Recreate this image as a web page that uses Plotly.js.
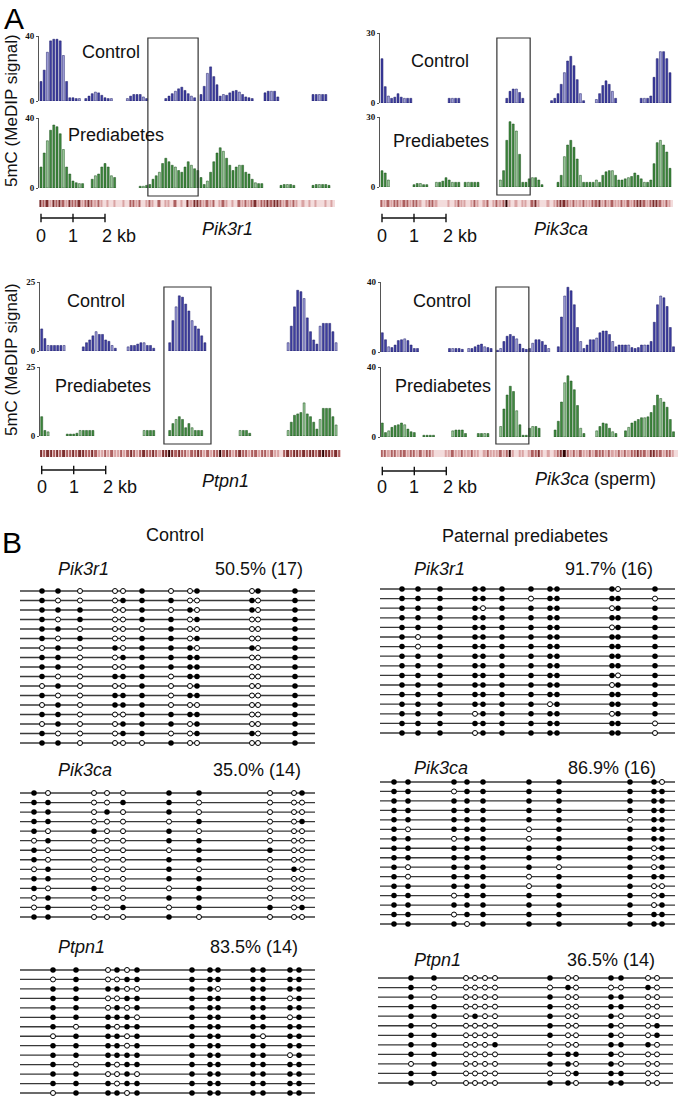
<!DOCTYPE html>
<html><head><meta charset="utf-8">
<script src="https://cdn.plot.ly/plotly-3.0.1.min.js"></script>
<style>html,body{margin:0;padding:0;background:#fff}#chart{width:680px;height:1099px}</style>
</head><body><div id="chart"></div>
<script>
const _ = null;
const KB_STEP = 0.1;            // bin width (kb)

// ---------- Panel A : MeDIP signal per 0.1-kb bin (null = no signal) ----------
const pik3r1_control = [12,19,30,37,38,38,37,28,12,2,2,1.5,1.5,_, 1.5,3,4.5,5.5,5,3.5,2,1.5,1.5,_,_,_,_, 1.5,3,4,4,4,2.5,1.5,_,_,_,_,_, 1.5,3,4.5,6,7.5,8.5,6.5,4.5,3,2,_, 4,9,17,21,15,10,3,4,3.5,5,6,6.5,5.5,4,2.5,2,1.5,_,_,_, 5,6,6,6,2.5,_,_,_,_,_,_,_,_,_,_, 4,4,4,4,4,_];
const pik3r1_prediabetes = [12,20,27,33,36,35,31,22,12,8,4,3,2.5,2.5,_,_, 5,7,8,12,14,12,7,6, _,_,_,_,_,_,_, 1,1,1.5, 2,5,7,9,14,17,15,13,12,10,9,12,15,13,11,10, 6,2,4,9,15,20,23,21,17,13,10,12,13,13,9,8,5,3,2.5,2.5, _,_,_,_,_, 1.5,2,2,2,1.5, _,_,_,_,_, 1.5,2,2,2,2,1.5];
const pik3ca_control = [19,7,3,2,2.5,4,2.5,2,2,2, _,_,_,_,_,_,_,_,_,_,_, 2,2,2,2, _,_,_,_,_,_,_,_,_,_,_,_,_,_, 2,5,6,6,4.5,2, _,_,_,_,_,_,_,_, 1,2,4,8,13,18,20,16,10,4,1, _,_,_, 1.5,4,7.5,9.5,8,5,2, _,_,_,_,_,_,_, 2,2,2,3,11,19,22,22,19,13];
const pik3ca_prediabetes = [7,6,3, _,_,_,_,_,_,_, 1,1.5,1.5,1,1, _,_, 2,2,2.5,4,3,2,2,2, _, 2,2,2,2,2, _,_,_,_,_,_, 3,7,20,28,27,24,14,2,2,3.5,4,4,3,1, _,_,_,_, 2,5,13,18,20,17,12,5,2,2,2,2,3,2,5,6.5,7,7,5,3,3,3.5,4,4.5,6,5,3.5,2,2,3,10,19,20,18,15,8];
const ptpn1_control = [8,4.5,2,2,2,2,2,2, _,_,_,_,_, 1.5,3,4,5.5,7,6,6,4,3.5,2,1, _,_,_, 1.5,2,2,2.5,3,3,2,2,1, _,_,_,_, 3,11,16,20,19.5,17,14.5,11,9,8,5.5,3, _,_,_,_,_,_,_,_,_,_,_,_,_,_,_,_,_,_,_,_,_,_,_,_,_, 3,9,16,22,21.5,19,12,7,4,2.5,9,10,10,10,7,3];
const ptpn1_prediabetes = [7,2,1.5, _,_,_,_,_, 0.7,0.7,0.7,1,2,2,2,2,2, _,_,_,_,_,_,_,_,_,_,_,_,_,_,_, 2,2,2,2, _,_,_,_, 2,4.5,6,7,6,3,4.5,3,2,2,2, _,_,_,_,_,_,_,_,_,_,_, 2,2,2,1, _,_,_,_,_,_,_,_,_,_,_, 2,5,7.5,8,8.5,12,8,7,5,2.5,6,10,10,10,7,4];
const pik3ca_sperm_control = [11,7,3,2.5,4,6.5,7,7.5,6.5,4,2,2, _,_,_,_,_,_,_,_,_, 2,2,2,2,1.5, _, 2,2,3,4,4.5,3,2.5,2, _, 1,2,6,9,10,9,7.5,4.5,2,1.5,2,5,7,7,6,4,2, _,_, 3,20,32,37,35,27,14,6,2,4,7,7,8,11,12,12,10,6,3,4,4,4,4,2.5,2,2.5,4,4,4,6,17,27,32,31,26,14,3];
const pik3ca_sperm_prediabetes = [8,2.5,3.5,5.5,6.5,7,8,7,4.5,3,2.5, _,_, 1,1,1,1, _,_,_,_,_, 3.5,4,4,4,2, _,_,_, 2,2,2,2, _,_,_, 6,16,24,29,26,15,7,1,1,5,6,6,5, _,_,_,_, 4,9,20,31,35,32,27,18,5,2, _,_,_, 3.5,6,8,7.5,5,3,2, _,_, 3.5,5.5,8,9,10,11,11,11.5,14,18,24,22,20,17,10,3];

// CpG density strip (0 = none ... 4 = densest), 0.1-kb bins
const pik3r1_cpg = [3,2,3,1,3,2,3,2,1,3,2,2,3,1,2,3,2,1,2, 1,0,1,0,1,0,0,1,0,2, 2,1,2,0,1,2, 1,0,2,0,1,1,0,2,0,1,0,3, 1,3,3,2, 1,2,1,2,0,1,2, 1,0,1,0,2,1, 2,1,2,3,1,2,2,3,2,3,3,2,1,2,1,2,1, 0,1,0,1,0,1,0,0,1,0,1];
const pik3ca_cpg = [2,1,2,1,2,2,1,2,2,1,2,2,1,0,1,2,2,1,0, 0,0,1,0,1,2,1,1,0,1,2,1,0,1,2,0,1,2,1, 2,4,1,0,1,0,1,1,0,2,3,1,0,0,1,0,1, 2,3,3,2,1,2,1,1,2,1,1,2,2,3,1,2, 1,2,1,1,2,1,2,1,2,3,3,2,1,2,3,3,2,1,2,1];
const ptpn1_cpg = [3,2,3,3,2,3,2,3,2,2,3,2,3,3,2,2,3,2,1, 1,2,1,2,1,1,2,1,2,3,2,1,2,3,2,2,3,2,1, 3,3,4,3,2,3,2,2,1,2,2,3,2,1,2,1,2,2,4, 2,3,2,1,2,3,2,2,1,2,2,1,2,2,1,2,1,1,0, 2,3,2,3,3,2,3,2,3,3,2,3,4,3,3,2,3,2];
const pik3ca_sperm_cpg = [2,2,1,2,2,1,2,2,1,2,2,1,2,1,2,2,1,0,0, 0,1,1,2,1,1,2,1,1,2,1,1,0,1,2,1,1,1,2, 1,2,4,1,0,1,1,0,1,2,2,3,1,0,1,0,1, 2,3,4,2,1,2,1,2,1,1,2,1,2,2,2,1, 2,1,1,2,1,2,1,2,2,3,2,2,1,3,3,2,2,1,2,2,1];

const a_genes = ['<i>Pik3r1</i>', '<i>Pik3ca</i>', '<i>Ptpn1</i>', '<i>Pik3ca</i> (sperm)'];
const a_group_labels = ['Control', 'Prediabetes'];
const a_y_max = [40, 30, 25, 40];
const a_dmr_box_kb = [[3.34, 4.91], [3.59, 4.63], [3.82, 5.29], [3.55, 4.58]];
const scale_ticks_kb = [0, 1, 2];
const scale_tick_labels = ['0', '1', '2 kb'];
const a_y_title = '5mC (MeDIP signal)';

// ---------- Panel B : bisulfite sequencing (1 = methylated, 0 = unmethylated) ----------
const b_genes = ['Pik3r1', 'Pik3ca', 'Ptpn1'];
const b_groups = ['Control', 'Paternal prediabetes'];
const b_amplicon_len = [295, 295, 295];
const cpg_pos_pik3r1 = [22, 38, 60, 95, 103, 122, 151, 170, 177, 232, 238, 275];
const cpg_pos_pik3ca = [14, 28, 74, 87, 103, 149, 179, 250, 274, 282];
const cpg_pos_ptpn1 = [33, 56, 88, 97, 107, 117, 172, 190, 198, 233, 243, 270, 279];
const pct_control = [50.5, 35.0, 83.5];
const n_control = [17, 14, 14];
const pct_paternal = [91.7, 86.9, 36.5];
const n_paternal = [16, 16, 14];

const meth_control_pik3r1 = ['110001001011','100011100101','111001010101','101001101001','110000100001','101001101001','010101110101','110011111001','110001111001','100111011001','010001001001','100111011001','010111000001','110001111001','010011101001','100011001101','110000100001'];
const meth_paternal_pik3r1 = ['111111111101','111111011110','111101111011','111111111111','111111111011','101111111111','101111111111','111111111111','111111111111','111111111101','111111111011','111111111111','111111101111','111011111011','111111111110','111011111110'];
const meth_control_pik3ca = ['1000011001','1100110000','1101010000','1100001001','1010010000','0100011000','1000001100','1000011000','0100010010','1100011000','1010001000','0100011000','0100101101','1100010000'];
const meth_paternal_pik3ca = ['1111111110','1101111111','1111111111','1111111111','1111111011','1011101111','1101101111','1111111101','1111111101','1011110101','1011101111','1111101100','1101111101','1111111101','1101111111','1110111111'];
const meth_control_ptpn1 = ['1101011111111','0100111111111','1111001101111','1100111111101','1101011111111','1111101111101','1010111111111','0111011111011','1111011111111','1111111111101','1010111111111','1100101111111','1110111111111','0111011111111'];
const meth_paternal_ptpn1 = ['1100001001100','1000000100010','1000001001100','1100001001100','1101001001000','1000001001001','1100001001001','1100010001110','1100001111000','0100001101000','1100000011100','1000001101100'];

// ---------- page geometry (pixels) ----------
const W = 680, H = 1099, PX_PER_KB = 32;
const px = v => v / W, py = v => 1 - v / H;
const FONT = 'Arial, "Liberation Sans", Helvetica, sans-serif';
const TEXT_DY = -2;   // visual-centre correction for middle-anchored text

const A_geo = [
  {x0:39, x1:333, kb0:41, ctl:[36,101], pre:[118,188], strip:[200,207], sx:[40,335], bar:218, lab:238, box:[38,196], gene:[227,231], ctlLab:[111,54], preLab:[116,137]},
  {x0:380, x1:674, kb0:382, ctl:[33,103], pre:[117,187], strip:[200,207], sx:[380,673], bar:218, lab:238, box:[38,195], gene:[561,231], ctlLab:[440,63], preLab:[441,143]},
  {x0:40, x1:341, kb0:41.7, ctl:[282,351], pre:[367,436], strip:[450,457], sx:[40,341], bar:470, lab:489, box:[287,444], gene:[225,483], ctlLab:[96,303], preLab:[103,388]},
  {x0:380.7, x1:679, kb0:382.3, ctl:[282,352], pre:[367,437], strip:[450,457], sx:[382,678], bar:471, lab:489, box:[287,444], gene:[595,481], ctlLab:[442,303], preLab:[443,388]}
];
const B_geo = [
  {x:[20,315], rows:[591,743], name:[56,571], pct:[305,571]},
  {x:[380,675], rows:[589,733], name:[412,571], pct:[655,571]},
  {x:[20,315], rows:[793,917], name:[56,772], pct:[303,772]},
  {x:[380,675], rows:[782,924], name:[412,770], pct:[658,770]},
  {x:[20,315], rows:[970,1093], name:[56,949], pct:[300,949]},
  {x:[378,673], rows:[978,1083], name:[412,962], pct:[657,962]}
];

const A_series = [
  [pik3r1_control, pik3r1_prediabetes, pik3r1_cpg],
  [pik3ca_control, pik3ca_prediabetes, pik3ca_cpg],
  [ptpn1_control, ptpn1_prediabetes, ptpn1_cpg],
  [pik3ca_sperm_control, pik3ca_sperm_prediabetes, pik3ca_sperm_cpg]
];
const B_series = [
  [cpg_pos_pik3r1, meth_control_pik3r1, meth_paternal_pik3r1],
  [cpg_pos_pik3ca, meth_control_pik3ca, meth_paternal_pik3ca],
  [cpg_pos_ptpn1, meth_control_ptpn1, meth_paternal_ptpn1]
];

const BAR_STYLE = [
  {fill:'#3f3fa2', light:'#a3a3dc', dark:'#1a1a66'},
  {fill:'#3f8a3f', light:'#9ccc9c', dark:'#1b4f1b'}
];

const id = n => n === 1 ? '' : String(n);
const traces = [];
const layout = {
  width: W, height: H, autosize: false,
  margin: {l:0, r:0, t:0, b:0, pad:0},
  paper_bgcolor: '#ffffff', plot_bgcolor: 'rgba(0,0,0,0)',
  showlegend: false, bargap: 0,
  annotations: [], shapes: []
};
const ann = (text, x, y, o = {}) => layout.annotations.push(Object.assign({
  text, x: px(x), y: py(y + TEXT_DY), xref: 'paper', yref: 'paper', showarrow: false,
  xanchor: 'center', yanchor: 'middle', font: {family: FONT, size: 18, color: '#111'}
}, o));

// ----- Panel A -----
A_geo.forEach((g, p) => {
  const xn = p + 1, xr = 'x' + id(xn);
  const [ctl, pre, cpg] = A_series[p];
  layout['xaxis' + id(xn)] = {
    domain: [px(g.x0), px(g.x1)],
    range: [(g.x0 - g.kb0) / PX_PER_KB, (g.x1 - g.kb0) / PX_PER_KB],
    visible: false, fixedrange: true, anchor: 'y' + id(4 * p + 1)
  };
  [ctl, pre].forEach((vals, j) => {
    const yn = 4 * p + 1 + j, dom = j === 0 ? g.ctl : g.pre, st = BAR_STYLE[j];
    layout['yaxis' + id(yn)] = {
      domain: [py(dom[1]), py(dom[0])], range: [0, a_y_max[p]], anchor: xr,
      showline: true, linecolor: '#555', linewidth: 1,
      tickvals: [0, a_y_max[p]], ticks: 'outside', ticklen: 2, tickcolor: '#555',
      tickfont: {family: '"Liberation Serif", "Times New Roman", serif', size: 9, color: '#111', weight: 'bold'},
      showgrid: false, zeroline: false, fixedrange: true
    };
    traces.push({
      type: 'bar', x: vals.map((v, i) => i * KB_STEP), y: vals,
      xaxis: xr, yaxis: 'y' + id(yn), width: 0.062,
      marker: {color: vals.map((v, i) => (i % 5 === 2 ? st.light : st.fill)), line: {color: st.dark, width: 0.5}},
      hoverinfo: 'skip'
    });
  });
  // CpG strip: pale background + density cells
  const ys = 4 * p + 3;
  layout['yaxis' + id(ys)] = {domain: [py(g.strip[1]), py(g.strip[0])], range: [-0.5, 0.5], visible: false, fixedrange: true, anchor: xr};
  layout.shapes.push({type: 'rect', xref: 'paper', yref: 'paper', layer: 'below',
    x0: px(g.sx[0]), x1: px(g.sx[1]), y0: py(g.strip[1]), y1: py(g.strip[0]),
    line: {width: 0}, fillcolor: '#f3dcdc'});
  traces.push({
    type: 'heatmap', x: cpg.map((v, i) => i * KB_STEP), y: [0], z: [cpg],
    xaxis: xr, yaxis: 'y' + id(ys), zmin: 0, zmax: 4, showscale: false, hoverinfo: 'skip', xgap: 1,
    colorscale: [[0, '#f3dcdc'], [0.25, '#d9a3a3'], [0.5, '#ad6060'], [0.75, '#7c2e2e'], [1, '#2e0303']]
  });
  // scale bar
  const yb = 4 * p + 4;
  layout['yaxis' + id(yb)] = {domain: [py(g.bar + 5), py(g.bar - 5)], range: [-1, 1], visible: false, fixedrange: true, anchor: xr};
  const sx = [scale_ticks_kb[0], scale_ticks_kb[scale_ticks_kb.length - 1], null], sy = [0, 0, null];
  scale_ticks_kb.forEach(t => { sx.push(t, t, null); sy.push(-0.85, 0.85, null); });
  traces.push({type: 'scatter', mode: 'lines', x: sx, y: sy, xaxis: xr, yaxis: 'y' + id(yb),
    line: {color: '#111', width: 1.4}, hoverinfo: 'skip', cliponaxis: false});
  scale_ticks_kb.forEach((t, k) => layout.annotations.push({
    text: scale_tick_labels[k], x: t, xref: xr, y: py(g.lab + TEXT_DY), yref: 'paper', showarrow: false,
    xanchor: k === scale_ticks_kb.length - 1 ? 'left' : 'center', xshift: k === scale_ticks_kb.length - 1 ? -5 : 0,
    yanchor: 'middle', font: {family: FONT, size: 18, color: '#111'}
  }));
  // DMR box
  layout.shapes.push({type: 'rect', xref: xr, yref: 'paper', x0: a_dmr_box_kb[p][0], x1: a_dmr_box_kb[p][1],
    y0: py(g.box[1]), y1: py(g.box[0]), line: {color: '#333', width: 1.2}, fillcolor: 'rgba(0,0,0,0)'});
  ann(a_group_labels[0], g.ctlLab[0], g.ctlLab[1]);
  ann(a_group_labels[1], g.preLab[0], g.preLab[1]);
  ann(a_genes[p], g.gene[0], g.gene[1]);
});
ann(a_y_title, 11, 113, {textangle: -90, font: {family: FONT, size: 17, color: '#111'}});
ann(a_y_title, 11, 362, {textangle: -90, font: {family: FONT, size: 17, color: '#111'}});
layout.annotations.push({text: 'A', x: px(2), y: 1, xref: 'paper', yref: 'paper', showarrow: false,
  xanchor: 'left', yanchor: 'top', font: {family: FONT, size: 30, color: '#000'}});
ann('B', 12, 544, {font: {family: FONT, size: 30, color: '#000'}});

// ----- Panel B -----
ann(b_groups[0], 175, 537);
ann(b_groups[1], 525, 538);
B_geo.forEach((g, k) => {
  const gi = Math.floor(k / 2), ci = k % 2;
  const pos = B_series[gi][0], mat = B_series[gi][1 + ci].map(s => s.split('').map(Number));
  const N = mat.length, sp = (g.rows[1] - g.rows[0]) / (N - 1);
  const xn = 5 + k, yn = 17 + k, xr = 'x' + id(xn), yr = 'y' + id(yn);
  layout['xaxis' + id(xn)] = {domain: [px(g.x[0]), px(g.x[1])], range: [0, b_amplicon_len[gi]], visible: false, fixedrange: true, anchor: yr};
  layout['yaxis' + id(yn)] = {domain: [py(g.rows[1] + sp / 2), py(g.rows[0] - sp / 2)], range: [N + 0.5, 0.5], visible: false, fixedrange: true, anchor: xr};
  const lx = [], ly = [], fx = [], fy = [], ox = [], oy = [];
  mat.forEach((row, r) => {
    lx.push(0, b_amplicon_len[gi], null); ly.push(r + 1, r + 1, null);
    row.forEach((m, s) => { if (m) { fx.push(pos[s]); fy.push(r + 1); } else { ox.push(pos[s]); oy.push(r + 1); } });
  });
  traces.push({type: 'scatter', mode: 'lines', x: lx, y: ly, xaxis: xr, yaxis: yr, line: {color: '#3a3a3a', width: 1.3}, hoverinfo: 'skip', cliponaxis: false});
  traces.push({type: 'scatter', mode: 'markers', x: fx, y: fy, xaxis: xr, yaxis: yr, marker: {symbol: 'circle', size: 5.5, color: '#000', line: {width: 0}}, hoverinfo: 'skip', cliponaxis: false});
  traces.push({type: 'scatter', mode: 'markers', x: ox, y: oy, xaxis: xr, yaxis: yr, marker: {symbol: 'circle', size: 5, color: '#fff', line: {color: '#000', width: 1}}, hoverinfo: 'skip', cliponaxis: false});
  const pct = ci === 0 ? pct_control[gi] : pct_paternal[gi], n = ci === 0 ? n_control[gi] : n_paternal[gi];
  ann('<i>' + b_genes[gi] + '</i>', g.name[0], g.name[1], {xanchor: 'left'});
  ann(pct.toFixed(1) + '% (' + n + ')', g.pct[0], g.pct[1], {xanchor: 'right'});
});

Plotly.newPlot('chart', traces, layout, {staticPlot: true, displayModeBar: false});
</script>
</body></html>
